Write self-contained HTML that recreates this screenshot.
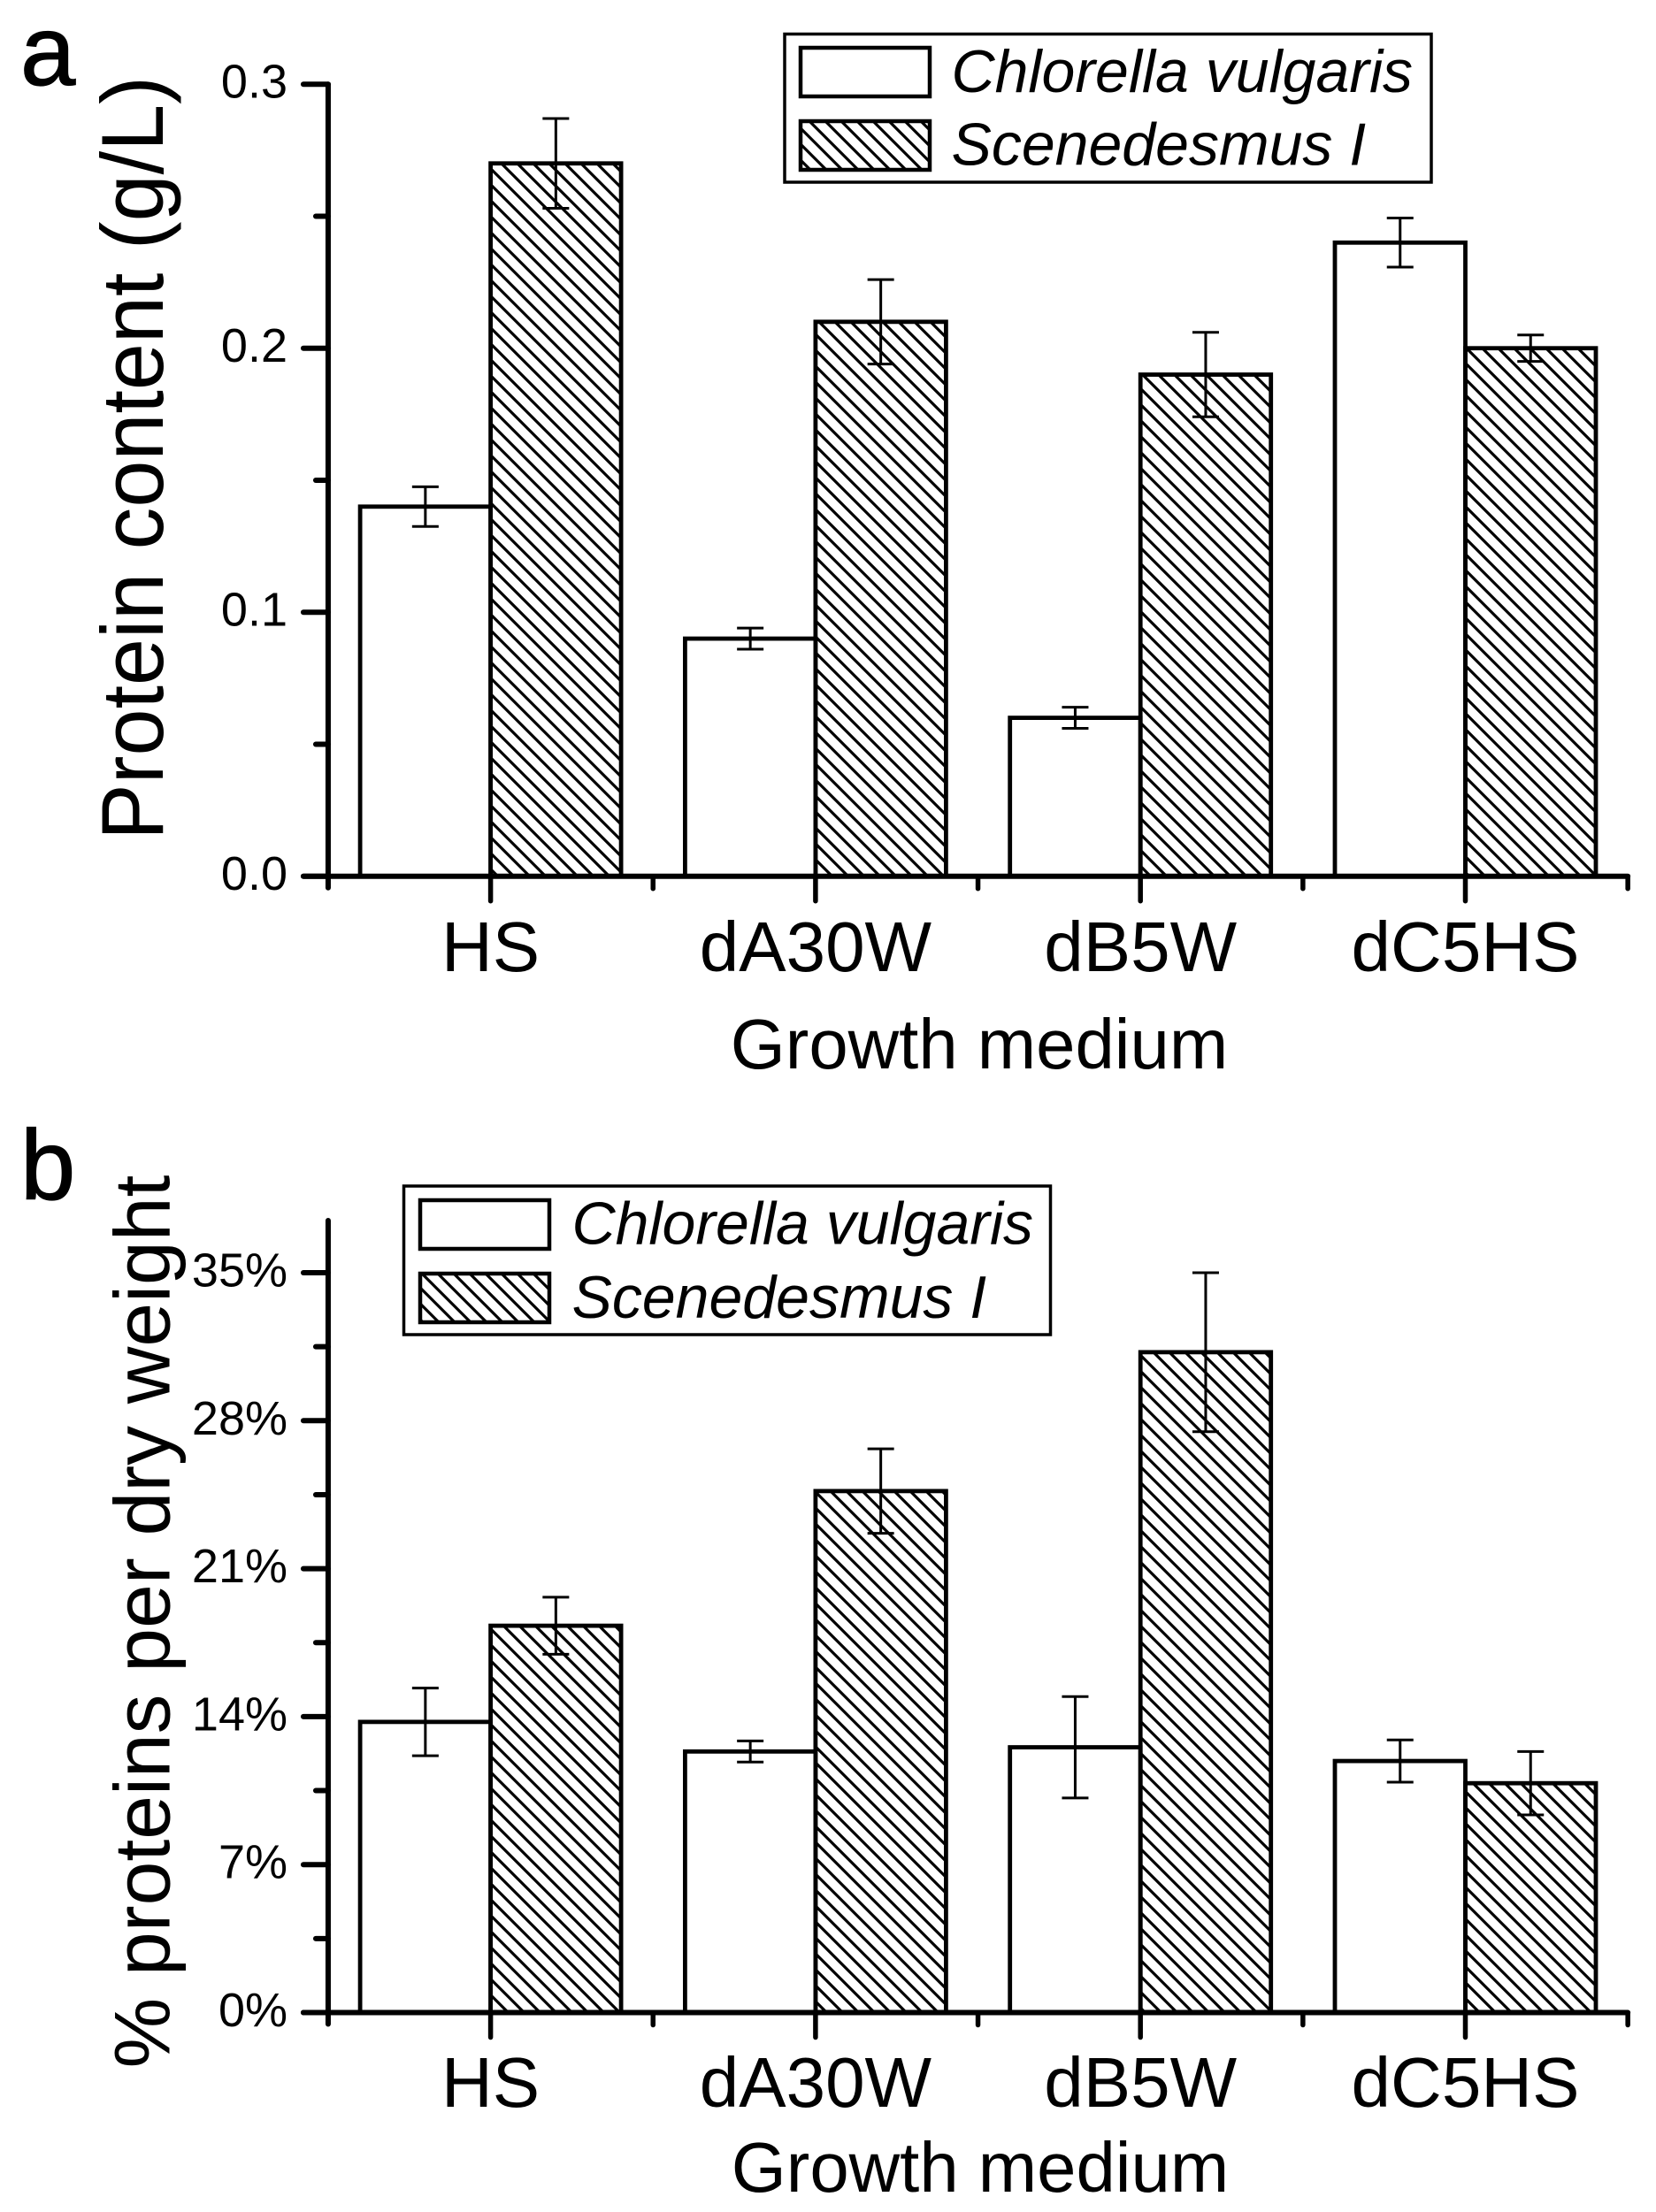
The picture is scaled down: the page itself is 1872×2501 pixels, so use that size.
<!DOCTYPE html>
<html lang="en">
<head>
<meta charset="utf-8">
<title>Protein content and percent proteins per dry weight</title>
<style>
html,body{margin:0;padding:0;background:#fff;}
body{width:1872px;height:2501px;overflow:hidden;}
svg{display:block;}
text{font-family:"Liberation Sans",Arial,sans-serif;fill:#000;}
.it{font-style:italic;font-size:68px;}
.tick{font-size:54px;}
.cat{font-size:80px;}
.axt{font-size:79.7px;}
</style>
</head>
<body>
<svg id="fig" xmlns="http://www.w3.org/2000/svg" width="1872" height="2501" viewBox="0 0 1872 2501">
<defs>
<pattern id="hatchA" patternUnits="userSpaceOnUse" width="18" height="18" patternTransform="translate(4,0)">
<path d="M-4,-4L22,22M-4,14L4,22M14,-4L22,4" stroke="#000" stroke-width="3.2" fill="none"/>
</pattern>
<pattern id="hatchB" patternUnits="userSpaceOnUse" width="18" height="18" patternTransform="translate(9,0)">
<path d="M-4,-4L22,22M-4,14L4,22M14,-4L22,4" stroke="#000" stroke-width="3.2" fill="none"/>
</pattern>
</defs>
<rect x="0" y="0" width="1872" height="2501" fill="#fff"/>

<g id="panelA"></g>
<g id="panelB"></g>

<text x="23" y="96" font-size="112" stroke="#000" stroke-width="1.2">a</text>
<text x="23" y="1356" font-size="112" stroke="#000" stroke-width="1.2">b</text>

<text transform="translate(184,518) rotate(-90) scale(0.963,1)" text-anchor="middle" font-size="99">Protein content (g/L)</text>
<text transform="translate(191.5,1833.5) rotate(-90)" text-anchor="middle" font-size="89.5">% proteins per dry weight</text>

<text class="axt" x="1107" y="1208" text-anchor="middle">Growth medium</text>
<text class="axt" x="1108" y="2478" text-anchor="middle">Growth medium</text>

<g>
<rect x="887" y="38.5" width="731" height="167.5" fill="#fff" stroke="#000" stroke-width="3.5"/>
<rect x="905" y="54" width="146" height="55" fill="#fff" stroke="#000" stroke-width="4.5"/>
<rect x="905" y="137" width="146" height="55" fill="url(#hatchA)" stroke="#000" stroke-width="4.5"/>
<text class="it" x="1075.5" y="104">Chlorella vulgaris</text>
<text class="it" x="1075.5" y="186.5">Scenedesmus I</text>
</g>

<g>
<rect x="456.5" y="1341" width="731" height="168" fill="#fff" stroke="#000" stroke-width="3.5"/>
<rect x="475" y="1357" width="146" height="55" fill="#fff" stroke="#000" stroke-width="4.5"/>
<rect x="475" y="1440" width="146" height="55" fill="url(#hatchB)" stroke="#000" stroke-width="4.5"/>
<text class="it" x="646.5" y="1406.5">Chlorella vulgaris</text>
<text class="it" x="646.5" y="1490">Scenedesmus I</text>
</g>
</svg>

<script>
var categories = ['HS', 'dA30W', 'dB5W', 'dC5HS'];

var proteinChlorella = [0.14, 0.09, 0.06, 0.24];
var proteinChlorellaErr = [0.0075, 0.004, 0.004, 0.0093];
var proteinScenedesmus = [0.27, 0.21, 0.19, 0.20];
var proteinScenedesmusErr = [0.017, 0.016, 0.016, 0.005];
var proteinMajorTicks = [0, 0.1, 0.2, 0.3];
var proteinMinorTicks = [0.05, 0.15, 0.25];
var proteinTickLabels = ['0.0', '0.1', '0.2', '0.3'];

var percentChlorella = [13.75, 12.35, 12.55, 11.9];
var percentChlorellaErr = [1.6, 0.5, 2.4, 1.0];
var percentScenedesmus = [18.3, 24.67, 31.24, 10.85];
var percentScenedesmusErr = [1.35, 2.0, 3.76, 1.5];
var percentMajorTicks = [0, 7, 14, 21, 28, 35];
var percentMinorTicks = [3.5, 10.5, 17.5, 24.5, 31.5];
var percentTickLabels = ['0%', '7%', '14%', '21%', '28%', '35%'];

var SVGNS = 'http://www.w3.org/2000/svg';

function xScale(i) {
  return 554.6 + 367.3 * i;
}

function makeY(zeroPx, pxPerUnit) {
  return function (v) { return zeroPx - v * pxPerUnit; };
}

function node(parent, tag, props) {
  var el = document.createElementNS(SVGNS, tag);
  for (var k in props) el.setAttribute(k, props[k]);
  parent.appendChild(el);
  return el;
}

function drawBar(g, key, cx, side, value, err, y, zero, fill) {
  var halfW = 147.5;
  var x0 = side < 0 ? cx - halfW : cx;
  var bar = node(g, 'rect', {x: x0, y: y(value), width: halfW, height: zero - y(value), fill: fill, stroke: '#000', 'stroke-width': 4.8});
  
  
  var mid = x0 + halfW / 2;
  var hi = y(value + err);
  var lo = y(value - err);
  var eb = node(g, 'path', {
    d: 'M' + mid + ',' + hi + 'V' + lo + 'M' + (mid - 15) + ',' + hi + 'H' + (mid + 15) + 'M' + (mid - 15) + ',' + lo + 'H' + (mid + 15),
    fill: 'none', stroke: '#000', 'stroke-width': 3
  });
  
  
}

function drawPanel(g, id, a, aErr, b, bErr, majors, minors, labels, y, zero, top, hatch, catBase) {
  var axisX = xScale(-0.5);
  var axisEnd = xScale(3.5);
  var i;
  for (i = 0; i < categories.length; i++) {
    drawBar(g, id + '-chlorella-' + categories[i], xScale(i), -1, a[i], aErr[i], y, zero, '#fff');
    drawBar(g, id + '-scenedesmus-' + categories[i], xScale(i), 1, b[i], bErr[i], y, zero, 'url(#' + hatch + ')');
  }

  var yAxis = node(g, 'line', {x1: axisX, x2: axisX, y1: top, y2: zero + 13, stroke: '#000', 'stroke-width': 6, 'stroke-linecap': 'round'});
  
  

  var xAxis = node(g, 'line', {x1: axisX - 28, x2: axisEnd, y1: zero, y2: zero, stroke: '#000', 'stroke-width': 6, 'stroke-linecap': 'round'});
  
  

  majors.forEach(function (v, n) {
    var t = node(g, 'line', {x1: axisX - 28, x2: axisX, y1: y(v), y2: y(v), stroke: '#000', 'stroke-width': 6, 'stroke-linecap': 'round'});
    
    
    var l = node(g, 'text', {x: 325, y: y(v) + 15.5, 'text-anchor': 'end', 'class': 'tick'});
    l.textContent = labels[n];
    
    
  });

  minors.forEach(function (v, n) {
    var t = node(g, 'line', {x1: axisX - 14, x2: axisX, y1: y(v), y2: y(v), stroke: '#000', 'stroke-width': 6, 'stroke-linecap': 'round'});
    
    
  });

  categories.forEach(function (c, n) {
    var t = node(g, 'line', {x1: xScale(n), x2: xScale(n), y1: zero, y2: zero + 28, stroke: '#000', 'stroke-width': 5.5, 'stroke-linecap': 'round'});
    
    
    var m = node(g, 'line', {x1: xScale(n + 0.5), x2: xScale(n + 0.5), y1: zero, y2: zero + 14, stroke: '#000', 'stroke-width': 5.5, 'stroke-linecap': 'round'});
    
    
    var l = node(g, 'text', {x: xScale(n), y: catBase, 'text-anchor': 'middle', 'class': 'cat'});
    l.textContent = c;
    
    
  });
}

drawPanel(document.getElementById('panelA'), 'a',
  proteinChlorella, proteinChlorellaErr, proteinScenedesmus, proteinScenedesmusErr,
  proteinMajorTicks, proteinMinorTicks, proteinTickLabels,
  makeY(990.7, 2985), 990.7, 95.3, 'hatchA', 1098);

drawPanel(document.getElementById('panelB'), 'b',
  percentChlorella, percentChlorellaErr, percentScenedesmus, percentScenedesmusErr,
  percentMajorTicks, percentMinorTicks, percentTickLabels,
  makeY(2275.5, 23.9), 2275.5, 1380, 'hatchB', 2382);
</script>
</body>
</html>
